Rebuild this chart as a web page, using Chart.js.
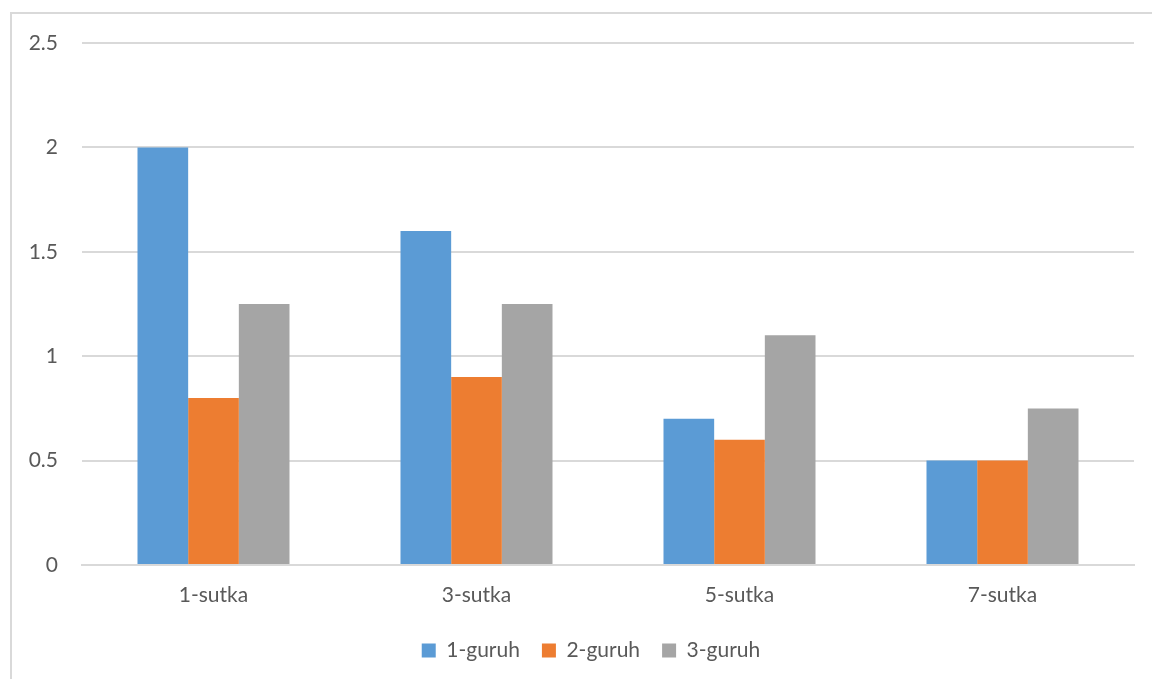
<!DOCTYPE html>
<html>
<head>
<meta charset="utf-8">
<script src="https://cdn.jsdelivr.net/npm/chart.js@4"></script>
<style>
    html, body { margin: 0; padding: 0; background: #fff; overflow: hidden; }
    #wrap { position: relative; width: 1152px; height: 679px; }
    #frame {
        position: absolute; left: 10px; top: 12px;
        width: 1160px; height: 700px;
        border: 2px solid #d9d9d9; box-sizing: border-box;
    }
    #chart { position: absolute; left: 0; top: 0; }
</style>
</head>
<body>
<div id="wrap">
    <div id="frame"></div>
    <canvas id="chart" width="1152" height="679"></canvas>
</div>
<script>
// Day groups along the x axis
const days = ['1-sutka', '3-sutka', '5-sutka', '7-sutka'];
// One series per group
const group1 = [2, 1.6, 0.7, 0.5];
const group2 = [0.8, 0.9, 0.6, 0.5];
const group3 = [1.25, 1.25, 1.1, 0.75];
const seriesNames = ['1-guruh', '2-guruh', '3-guruh'];
const yTicks = [0, 0.5, 1, 1.5, 2, 2.5];

const textColor = '#595959';
const gridColor = '#d9d9d9';
const font = { family: 'Lato, "Open Sans", sans-serif', size: 21 };

function makeSet(label, data, color) {
    return {
        label: label,
        data: data,
        backgroundColor: color,
        borderWidth: 0,
        categoryPercentage: 0.578,
        barPercentage: 1.0
    };
}

// nudge the legend a bit to the right of the canvas centre
const legendShift = {
    id: 'legendShift',
    afterLayout(chart) {
        chart.legend.left += 24;
        chart.legend.right += 24;
    }
};

document.addEventListener('DOMContentLoaded', function() {
    const ctx = document.getElementById('chart').getContext('2d');
    new Chart(ctx, {
        type: 'bar',
        data: {
            labels: days,
            datasets: [
                makeSet(seriesNames[0], group1, '#5b9bd5'),
                makeSet(seriesNames[1], group2, '#ed7d31'),
                makeSet(seriesNames[2], group3, '#a5a5a5')
            ]
        },
        plugins: [legendShift],
        options: {
            responsive: false,
            animation: false,
            layout: { padding: { left: 0, right: 18, top: 43, bottom: 8 } },
            plugins: {
                tooltip: { enabled: false },
                legend: {
                    position: 'bottom',
                    labels: {
                        color: textColor,
                        font: font,
                        boxWidth: 14,
                        boxHeight: 14,
                        padding: 22
                    }
                }
            },
            scales: {
                x: {
                    afterFit: function(scale) { scale.height = 53; },
                    grid: { display: false, drawTicks: false },
                    border: { display: true, color: gridColor, width: 2 },
                    ticks: { color: textColor, font: font, padding: 18 }
                },
                y: {
                    min: 0,
                    max: 2.5,
                    afterBuildTicks: function(scale) {
                        scale.ticks = yTicks.map(v => ({ value: v }));
                    },
                    afterFit: function(scale) { scale.width = 82; },
                    grid: { color: gridColor, lineWidth: 2, drawTicks: false },
                    border: { display: false },
                    ticks: {
                        color: textColor,
                        font: font,
                        padding: 24,
                        callback: v => String(v)
                    }
                }
            }
        }
    });
});
</script>
</body>
</html>
